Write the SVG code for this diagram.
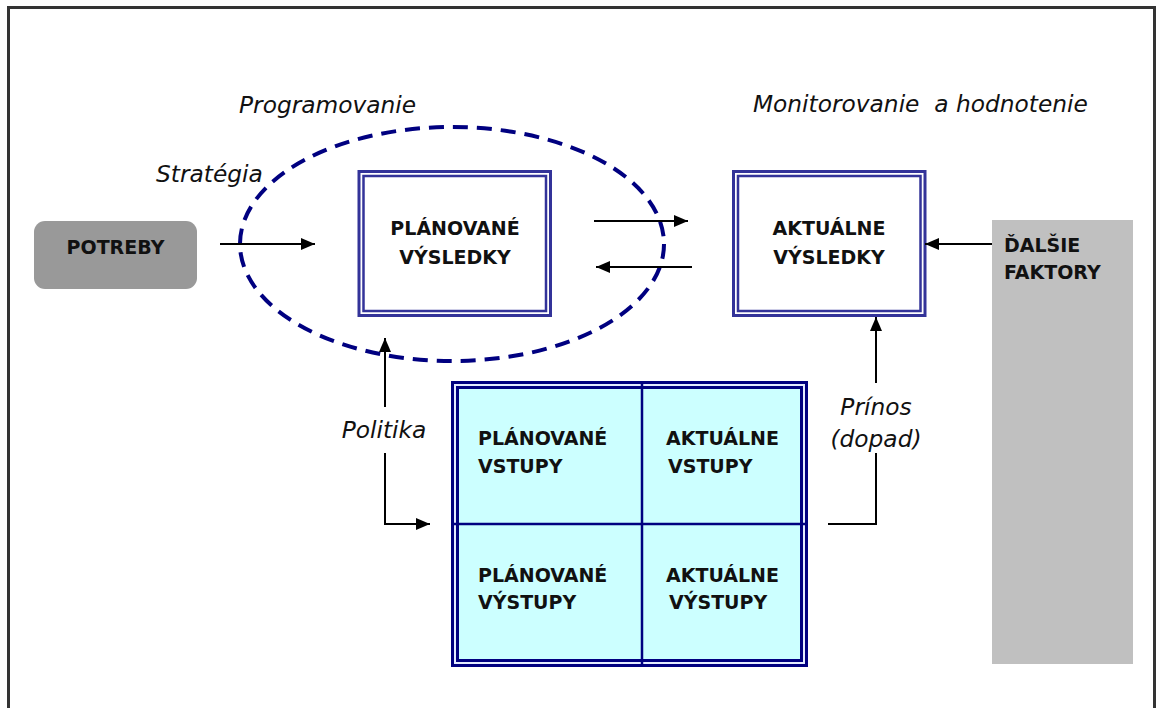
<svg xmlns="http://www.w3.org/2000/svg" width="1159" height="708" viewBox="0 0 1159 708">
<defs>
<style>
.b{font-family:"DejaVu Sans","Liberation Sans",sans-serif;font-weight:bold;font-size:19px;fill:#111}
.i{font-family:"DejaVu Sans","Liberation Sans",sans-serif;font-style:italic;font-size:23.3px;fill:#111}
.c{stroke:#000;stroke-width:2;fill:none}
.bo{fill:#fff;stroke:#333399;stroke-width:3}
.bi{fill:none;stroke:#333399;stroke-width:2.5}
.g{stroke:#000080;fill:none}
</style>
<marker id="ah" markerUnits="userSpaceOnUse" markerWidth="14" markerHeight="12" refX="14" refY="6" orient="auto">
<path d="M0,0 L14,6 L0,12 Z" fill="#000"/>
</marker>
</defs>
<rect width="1159" height="708" fill="#fff"/>
<path d="M8.5,720 V7.5 H1154.5 V720" fill="none" stroke="#333" stroke-width="3"/>

<g id="programovanie">
<ellipse cx="452" cy="244" rx="212" ry="117" fill="none" stroke="#000080" stroke-width="4" stroke-dasharray="15 9"/>
<text class="i" x="239" y="113">Programovanie</text>
</g>
<g id="monitorovanie-label">
<text class="i" x="753" y="112" xml:space="preserve">Monitorovanie  a hodnotenie</text>
</g>
<g id="strategia-label"><text class="i" x="156" y="182">Stratégia</text></g>
<g id="politika-label"><text class="i" x="384" y="438" text-anchor="middle">Politika</text></g>
<g id="prinos-label">
<text class="i" x="876" y="415" text-anchor="middle">Prínos</text>
<text class="i" x="876" y="447" text-anchor="middle">(dopad)</text>
</g>

<g id="potreby">
<rect x="34" y="221" width="163" height="68" rx="11" fill="#999"/>
<text class="b" x="115.5" y="254" text-anchor="middle">POTREBY</text>
</g>

<g id="planovane-vysledky">
<rect class="bo" x="359" y="171.5" width="191.5" height="144"/>
<rect class="bi" x="363.5" y="176" width="182.5" height="135"/>
<text class="b" x="455" y="235" text-anchor="middle">PLÁNOVANÉ</text>
<text class="b" x="455" y="264" text-anchor="middle">VÝSLEDKY</text>
</g>

<g id="aktualne-vysledky">
<rect class="bo" x="733.5" y="171.5" width="191.5" height="144"/>
<rect class="bi" x="738" y="176" width="182.5" height="135"/>
<text class="b" x="829" y="235" text-anchor="middle">AKTUÁLNE</text>
<text class="b" x="829" y="264" text-anchor="middle">VÝSLEDKY</text>
</g>

<g id="dalsie-faktory">
<rect x="992" y="220" width="141" height="444" fill="#c0c0c0"/>
<text class="b" x="1004" y="252">ĎALŠIE</text>
<text class="b" x="1004" y="279">FAKTORY</text>
</g>

<g id="vstupy-vystupy">
<rect x="452.5" y="382.5" width="354" height="283" fill="#e4ecff" stroke="#000080" stroke-width="3"/>
<rect x="457.5" y="387.5" width="344" height="273" fill="#ccffff" stroke="#000080" stroke-width="3"/>
<line class="g" x1="642" y1="384" x2="642" y2="666" stroke-width="2.5"/>
<line class="g" x1="453" y1="524" x2="806" y2="524" stroke-width="2.5"/>
<text class="b" x="478" y="445">PLÁNOVANÉ</text>
<text class="b" x="478" y="473">VSTUPY</text>
<text class="b" x="666" y="445">AKTUÁLNE</text>
<text class="b" x="668" y="473">VSTUPY</text>
<text class="b" x="478" y="582">PLÁNOVANÉ</text>
<text class="b" x="478" y="609">VÝSTUPY</text>
<text class="b" x="666" y="582">AKTUÁLNE</text>
<text class="b" x="669" y="609">VÝSTUPY</text>
</g>

<g id="connectors">
<line class="c" x1="220" y1="244" x2="315" y2="244" marker-end="url(#ah)"/>
<line class="c" x1="594" y1="221" x2="688" y2="221" marker-end="url(#ah)"/>
<line class="c" x1="692" y1="267" x2="596" y2="267" marker-end="url(#ah)"/>
<line class="c" x1="992" y1="244" x2="925" y2="244" marker-end="url(#ah)"/>
<line class="c" x1="876" y1="383" x2="876" y2="317" marker-end="url(#ah)"/>
<polyline class="c" points="828,524 876,524 876,453"/>
<line class="c" x1="385" y1="407" x2="385" y2="338" marker-end="url(#ah)"/>
<polyline class="c" points="385,453 385,524 430,524" marker-end="url(#ah)"/>
</g>
</svg>
